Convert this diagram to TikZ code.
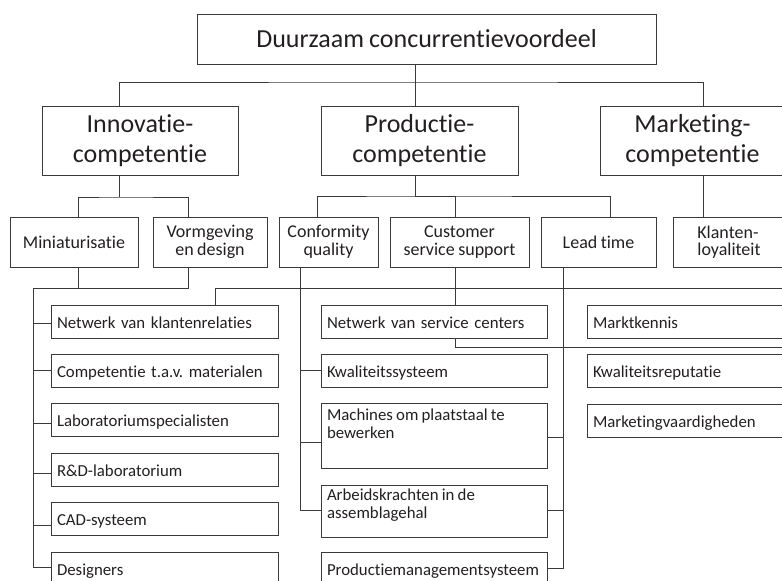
\documentclass[tikz,border=0pt]{standalone}
\usepackage{fontspec}
\setmainfont{Carlito}[Ligatures=NoCommon, WordSpace=0.85]
\usetikzlibrary{calc}
\definecolor{linec}{HTML}{3A3A3A}
\definecolor{textc}{HTML}{231F20}
\hyphenpenalty=10000
\exhyphenpenalty=10000
\frenchspacing
\newcommand{\bigfont}{\fontsize{26}{30}\selectfont}
\newcommand{\midfont}{\fontsize{18}{17.5}\selectfont}
\newcommand{\smallfont}{\fontsize{16.8}{18}\selectfont}
\tikzset{
  box/.style={draw=linec, line width=1pt, inner sep=0pt, text=textc},
  bigbox/.style={box, font=\bigfont, align=center, minimum height=69pt},
  midbox/.style={box, font=\midfont, align=center, minimum height=50pt},
  item/.style={box, font=\smallfont, align=left, inner xsep=6pt, inner ysep=0pt,
    minimum height=33pt, text height=14pt, text depth=1pt},
  tallitem/.style={box, font=\smallfont, inner xsep=6pt, inner ysep=0pt},
  leftcol/.style={item, text width=215pt},
  midcol/.style={item, text width=214pt},
  rightcol/.style={item, text width=186pt},
  wire/.style={draw=linec, line width=1pt},
}
\begin{document}
\begin{tikzpicture}[x=1pt, y=-1pt]
\useasboundingbox (0,0) rectangle (782,581);
\clip (0,0) rectangle (782,581);

% top level
\node[bigbox, minimum width=459pt, minimum height=50pt] (top) at (426.5,39) {Duurzaam concurrentievoordeel};

% competences
\node[bigbox, minimum width=196pt] (inno) at (140,140.5) {Innovatie-\\competentie};
\node[bigbox, minimum width=197pt] (prod) at (419.5,140.5) {Productie-\\competentie};
\node[bigbox, minimum width=185pt] (mark) at (692.5,140.5) {Marketing-\\competentie};

% sub-competences
\node[midbox, minimum width=128pt] (mini) at (74,242) {Miniaturisatie};
\node[midbox, minimum width=114pt] (vorm) at (210,242) {Vormgeving\\en design};
\node[midbox, minimum width=99pt] (conf) at (328.5,242) {Conformity\\quality};
\node[midbox, minimum width=139pt] (cust) at (459.5,242) {Customer\\service support};
\node[midbox, minimum width=115pt] (lead) at (598.5,242) {Lead time};
\node[midbox, minimum width=112pt, align=left] (klant) at (729,242) {Klanten-\\loyaliteit};

% resources, left column
\node[leftcol] (netw) at (164.5,321.5) {Netwerk van klantenrelaties};
\node[leftcol] (comp) at (164.5,370.5) {Competentie t.a.v. materialen};
\node[leftcol] (labs) at (164.5,420) {Laboratoriumspecialisten};
\node[leftcol] (rdlab) at (164.5,469.5) {R\&D-laboratorium};
\node[leftcol] (cad) at (164.5,518.5) {CAD-systeem};
\node[leftcol] (des) at (164.5,568.5) {Designers};

% resources, middle column
\node[midcol] (svc) at (434,321.5) {Netwerk van service centers};
\node[midcol] (kwal) at (434,370.5) {Kwaliteitssysteem};
\node[tallitem] (mach) at (434,435.5) {\parbox[c][65pt][t]{214pt}{\raggedright\vspace*{6pt}Machines om plaatstaal te\\bewerken}};
\node[tallitem] (arb) at (434,511) {\parbox[c][52pt][t]{214pt}{\raggedright\vspace*{4pt}Arbeidskrachten in de\\assemblagehal}};
\node[midcol] (pman) at (434,568.5) {Productiemanagementsysteem};

% resources, right column
\node[rightcol] (mk) at (686,321.5) {Marktkennis};
\node[rightcol] (krep) at (686,370.5) {Kwaliteitsreputatie};
\node[rightcol] (mvaard) at (686,420.5) {Marketingvaardigheden};

% bus points
\coordinate (tbus) at (415,82);
\coordinate (ib) at (119,197);
\coordinate (pb) at (415,196);
\coordinate (ibus) at (33,288);
\coordinate (edgeA) at (784,288);
\coordinate (edgeB) at (784,347);

% top to competences
\draw[wire] ([xshift=-11.5pt]top.south) -- (tbus);
\draw[wire] ([xshift=-21pt]inno.north) |- (tbus) -| ([xshift=10.5pt]mark.north);
\draw[wire] (tbus) -- ([xshift=-4.5pt]prod.north);

% competences to sub-competences
\draw[wire] ([xshift=-21pt]inno.south) -- (ib);
\draw[wire] ([xshift=4pt]mini.north) |- (ib) -| ([xshift=-22pt]vorm.north);
\draw[wire] ([xshift=-4.5pt]prod.south) -- (pb);
\draw[wire] ([xshift=-11.5pt]conf.north) |- (pb) -| ([xshift=11.5pt]lead.north);
\draw[wire] ([xshift=-4.5pt]cust.north) |- (pb);
\draw[wire] ([xshift=10.5pt]mark.south) -- ([xshift=-26pt]klant.north);

% innovation resources
\draw[wire] ([xshift=4pt]mini.south) |- (ibus);
\draw[wire] ([xshift=-22pt]vorm.south) |- (ibus);
\draw[wire] ([yshift=-1.5pt]netw.west) -| (ibus);
\draw[wire] (comp.west) -| (ibus);
\draw[wire] ([yshift=-3pt]labs.west) -| (ibus);
\draw[wire] ([yshift=-3.5pt]rdlab.west) -| (ibus);
\draw[wire] ([yshift=-6.5pt]cad.west) -| (ibus);
\draw[wire] ([yshift=1.5pt]des.west) -| (ibus);

% customer relations network linked to the right
\draw[wire] ([xshift=50.5pt]netw.north) |- (edgeA);

% conformity quality resources
\draw[wire] ([xshift=-28.5pt]conf.south) |- (kwal.west);
\draw[wire] ([xshift=-28.5pt]conf.south) |- ([yshift=-6.5pt]mach.west);
\draw[wire] ([xshift=-28.5pt]conf.south) |- ([yshift=1pt]arb.west);

% customer service support
\draw[wire] ([xshift=-4.5pt]cust.south) -- ([xshift=21pt]svc.north);
\draw[wire] ([xshift=21pt]svc.south) |- (edgeB);

% lead time resources
\draw[wire] ([xshift=-35.5pt]lead.south) |- ([yshift=-1.5pt]mach.east);
\draw[wire] ([xshift=-35.5pt]lead.south) |- ([yshift=1pt]arb.east);
\draw[wire] ([xshift=-35.5pt]lead.south) |- (pman.east);
\end{tikzpicture}
\end{document}
